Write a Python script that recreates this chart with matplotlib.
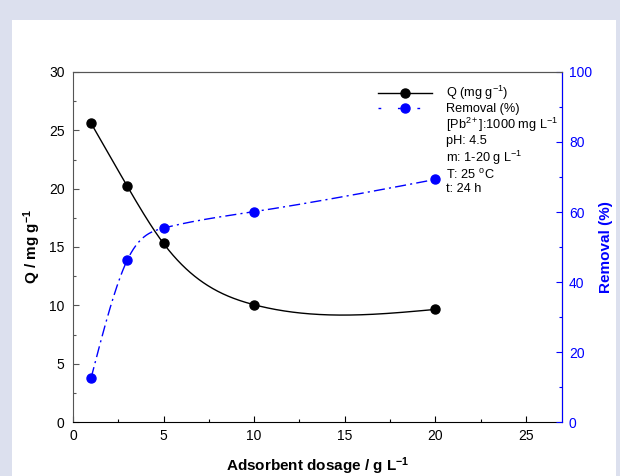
import numpy as np
import matplotlib
matplotlib.use("Agg")
import matplotlib.pyplot as plt
from matplotlib.lines import Line2D
from matplotlib.patches import Rectangle

plt.rcParams['font.family'] = ['Liberation Sans', 'DejaVu Sans']
plt.rcParams['mathtext.fontset'] = 'custom'
plt.rcParams['mathtext.rm'] = 'Liberation Sans'
plt.rcParams['mathtext.it'] = 'Liberation Sans:italic'
plt.rcParams['mathtext.bf'] = 'Liberation Sans:bold'
plt.rcParams['mathtext.default'] = 'regular'

# ---- data ----
dosage = [1, 3, 5, 10, 20]
q_values = [25.6, 20.2, 15.3, 10.05, 9.65]
removal_values = [12.6, 46.3, 55.4, 60.1, 69.3]
x_ticks = [0, 5, 10, 15, 20, 25]
q_ticks = [0, 5, 10, 15, 20, 25, 30]
removal_ticks = [0, 20, 40, 60, 80, 100]
legend_notes = ['[Pb$^{2+}$]:1000 mg L$^{-1}$', 'pH: 4.5', 'm: 1-20 g L$^{-1}$',
                'T: 25 $^{o}$C', 't: 24 h']


def natural_spline(x, y, xs):
    x = np.asarray(x, float); y = np.asarray(y, float)
    n = len(x); h = np.diff(x)
    A = np.zeros((n, n)); b = np.zeros(n)
    A[0, 0] = 1; A[-1, -1] = 1
    for i in range(1, n - 1):
        A[i, i - 1] = h[i - 1]
        A[i, i] = 2 * (h[i - 1] + h[i])
        A[i, i + 1] = h[i]
        b[i] = 6 * ((y[i + 1] - y[i]) / h[i] - (y[i] - y[i - 1]) / h[i - 1])
    M = np.linalg.solve(A, b)
    out = np.empty_like(xs)
    for k, t in enumerate(xs):
        i = min(max(np.searchsorted(x, t) - 1, 0), n - 2)
        a = x[i + 1] - t; bb = t - x[i]
        out[k] = (M[i] * a**3 + M[i + 1] * bb**3) / (6 * h[i]) + \
                 (y[i] / h[i] - M[i] * h[i] / 6) * a + (y[i + 1] / h[i] - M[i + 1] * h[i] / 6) * bb
    return out


W, H = 620, 476
fig = plt.figure(figsize=(W / 100, H / 100), dpi=100)
fig.patch.set_facecolor('#dce0ee')
fig.patches.append(Rectangle((12 / W, 0), (616 - 12) / W, (H - 20) / H,
                             transform=fig.transFigure, facecolor='white',
                             edgecolor='none', zorder=-10))

ax = fig.add_axes([73 / W, (H - 422) / H, (562 - 73) / W, 350 / H])
ax.set_facecolor('none')
ax2 = ax.twinx()

xs = np.linspace(dosage[0], dosage[-1], 400)
ax.plot(xs, natural_spline(dosage, q_values, xs), color='black', lw=1.0)
ax.plot(dosage, q_values, 'o', color='black', ms=6.5)

blue = '#0000ff'
ax2.plot(xs, natural_spline(dosage, removal_values, xs), color=blue, lw=1.0,
         dashes=(8, 3, 1.5, 3))
ax2.plot(dosage, removal_values, 'o', color=blue, ms=6.5)

ax.set_xlim(0, 27)
ax.set_ylim(0, 30)
ax2.set_ylim(0, 100)
ax.set_xticks(x_ticks)
ax.set_yticks(q_ticks)
ax2.set_yticks(removal_ticks)
ax.set_xticks(np.arange(2.5, 27, 5), minor=True)
ax.set_yticks(np.arange(2.5, 30, 5), minor=True)
ax2.set_yticks(np.arange(10, 100, 20), minor=True)

for a in (ax, ax2):
    a.tick_params(which='major', direction='in', length=4, width=0.8, labelsize=10)
    a.tick_params(which='minor', direction='in', length=2.5, width=0.8)
ax.tick_params(axis='x', which='both', top=False, pad=5)
ax.tick_params(axis='y', which='both', colors='#555555', labelcolor='black', pad=6)
ax2.tick_params(axis='y', which='both', colors=blue, labelcolor=blue, pad=5)

ax.spines['left'].set_color('#555555')
ax.spines['top'].set_color('#555555')
ax.spines['bottom'].set_color('black')
ax2.spines['right'].set_color(blue)
ax2.spines['left'].set_visible(False)
ax2.spines['top'].set_color('#555555')
ax2.spines['bottom'].set_visible(False)

ax.set_xlabel('Adsorbent dosage / g L$^{\\mathbf{-1}}$', fontsize=11, fontweight='bold', labelpad=9)
ax.set_ylabel('Q / mg g$^{\\mathbf{-1}}$', fontsize=11, fontweight='bold', labelpad=4)
ax2.set_ylabel('Removal (%)', fontsize=11, fontweight='bold', color=blue, labelpad=5)

handles = [Line2D([], [], color='black', lw=1.0, marker='o', ms=6.5),
           Line2D([], [], color=blue, lw=1.0, dashes=(2, 12), marker='o', ms=6.5)]
labels = ['Q (mg g$^{-1}$)', 'Removal (%)']
for note in legend_notes:
    handles.append(Line2D([], [], linestyle='none'))
    labels.append(note)
ax2.legend(handles, labels, loc='upper left', bbox_to_anchor=(305 / 489, 1 - 12 / 350),
           frameon=False, fontsize=9.2, handlelength=4.2, handletextpad=1.1,
           labelspacing=0.08, borderpad=0, borderaxespad=0)

fig.savefig('out.png', dpi=100, facecolor=fig.get_facecolor())
